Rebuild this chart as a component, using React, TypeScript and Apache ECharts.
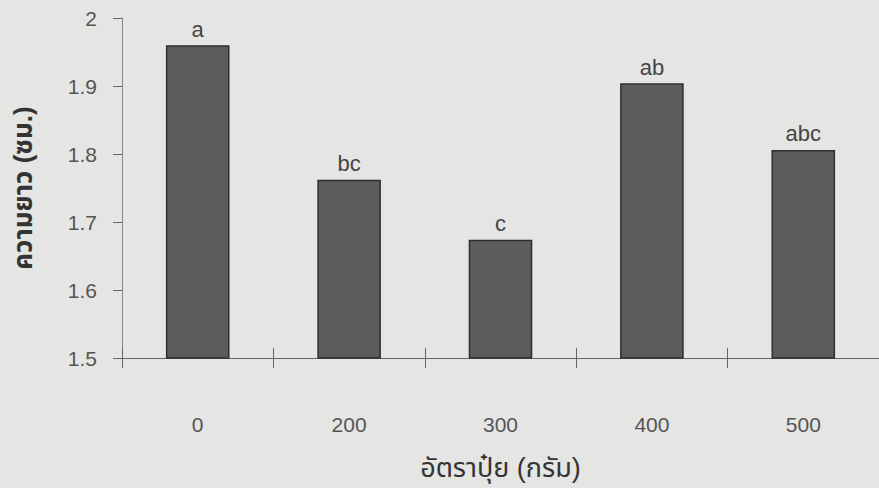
import React, { useEffect, useRef } from "react";
import * as echarts from "echarts";

const categories = ["0", "200", "300", "400", "500"];
const values = [1.96, 1.762, 1.674, 1.904, 1.806];
const letters = ["a", "bc", "c", "ab", "abc"];
const yTitle = "ความยาว (ซม.)";
const xTitle = "อัตราปุ๋ย (กรัม)";

const FONT = "'Liberation Sans', Arial, 'Noto Sans Thai', 'Noto Sans', sans-serif";

export default function App() {
  const ref = useRef<HTMLDivElement>(null);
  useEffect(() => {
    const chart = echarts.init(ref.current!, undefined, { renderer: "svg" });
    chart.setOption({
      animation: false,
      backgroundColor: "#e5e5e3",
      textStyle: { fontFamily: FONT },
      grid: { left: 122, right: -2, top: 18, bottom: 130 },
      xAxis: [
        {
          type: "category",
          data: categories,
          name: xTitle,
          nameLocation: "middle",
          nameGap: 96,
          nameTextStyle: { fontSize: 27, color: "#333", fontFamily: FONT },
          axisLine: { lineStyle: { color: "#666", width: 1 } },
          axisTick: { show: true, length: 10, lineStyle: { color: "#666" } },
          axisLabel: { margin: 56, fontSize: 21, color: "#555", fontFamily: FONT },
        },
        {
          type: "category",
          data: categories,
          position: "bottom",
          axisLine: { show: false },
          axisTick: { show: true, inside: true, length: 10, lineStyle: { color: "#666" } },
          axisLabel: { show: false },
        },
      ],
      yAxis: {
        type: "value",
        min: 1.5,
        max: 2,
        interval: 0.1,
        name: yTitle,
        nameLocation: "middle",
        nameGap: 86,
        nameTextStyle: { fontSize: 26, color: "#333", fontWeight: "bold", fontFamily: FONT },
        axisLine: { show: true, lineStyle: { color: "#888", width: 1 } },
        axisTick: { show: true, length: 9, lineStyle: { color: "#666" } },
        splitLine: { show: false },
        axisLabel: { margin: 25, fontSize: 21, color: "#555", fontFamily: FONT },
      },
      series: [
        {
          type: "bar",
          data: values,
          barWidth: "42%",
          itemStyle: { color: "#5c5c5c", borderColor: "#2e2e2e", borderWidth: 1.5 },
          label: {
            show: true,
            position: "top",
            distance: 5,
            fontSize: 22,
            color: "#444",
            fontFamily: FONT,
            formatter: (p: any) => letters[p.dataIndex],
          },
        },
      ],
    });
    return () => chart.dispose();
  }, []);
  return <div ref={ref} style={{ width: 879, height: 488, position: "fixed", left: 0, top: 0 }} />;
}
